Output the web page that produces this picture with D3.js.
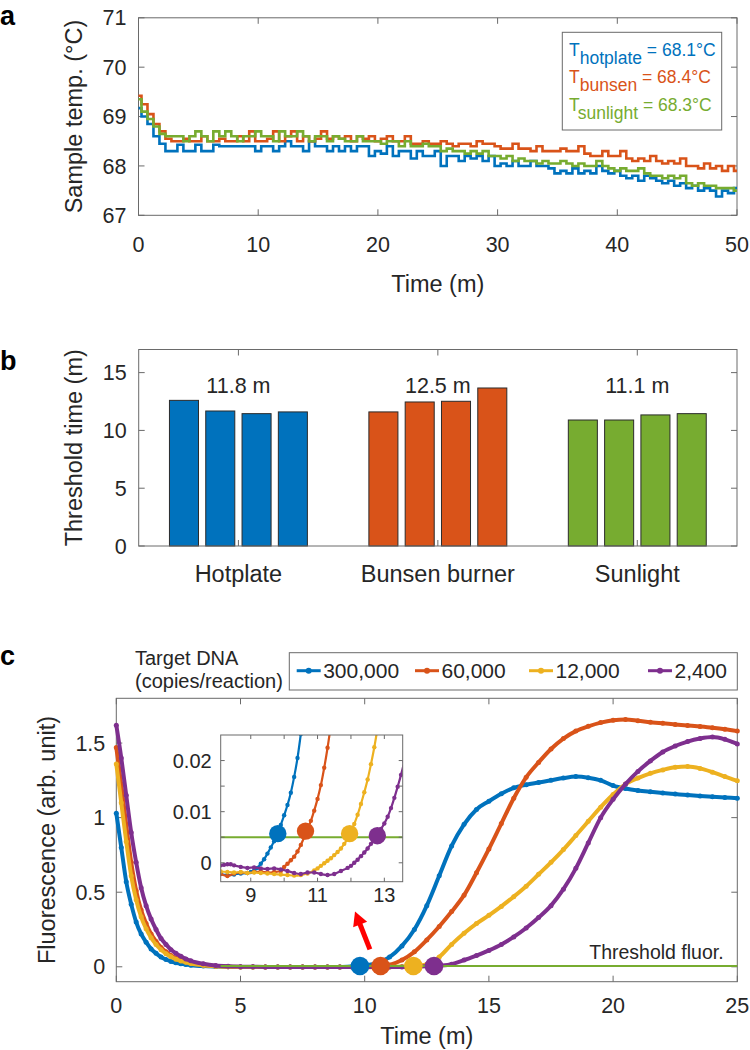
<!DOCTYPE html>
<html><head><meta charset="utf-8">
<script src="https://cdn.jsdelivr.net/npm/d3@7"></script>
<style>
html,body{margin:0;padding:0;background:#fff;}
svg{display:block;}
text{font-family:"Liberation Sans",Arial,Helvetica,sans-serif;fill:#262626;}
</style></head>
<body>
<svg id="chart" width="750" height="1050"></svg>
<script>
// ---------------- DATA ----------------
// Panel a: sample temperature (°C) vs time (min)
const tempTime = [0,0.5,1,1.5,2,2.5,3,3.5,4,4.5,5,5.5,6,6.5,7,7.5,8,8.5,9,9.5,10,10.5,11,11.5,12,12.5,13,13.5,14,14.5,15,15.5,16,16.5,17,17.5,18,18.5,19,19.5,20,20.5,21,21.5,22,22.5,23,23.5,24,24.5,25,25.5,26,26.5,27,27.5,28,28.5,29,29.5,30,30.5,31,31.5,32,32.5,33,33.5,34,34.5,35,35.5,36,36.5,37,37.5,38,38.5,39,39.5,40,40.5,41,41.5,42,42.5,43,43.5,44,44.5,45,45.5,46,46.5,47,47.5,48,48.5,49,49.5,50];
const tempHotplate = [69.17,69.0,68.85,68.6,68.45,68.3,68.3,68.43,68.3,68.3,
 68.43,68.3,68.3,68.43,68.4,68.4,68.4,68.4,68.4,68.4,
 68.3,68.4,68.4,68.3,68.4,68.5,68.4,68.4,68.3,68.5,
 68.4,68.4,68.3,68.4,68.3,68.4,68.3,68.4,68.4,68.2,
 68.3,68.25,68.4,68.2,68.3,68.3,68.15,68.3,68.2,68.2,
 68.3,68.0,68.2,68.2,68.1,68.2,68.15,68.2,68.1,68.2,
 68.0,68.05,68.0,68.1,68.0,68.0,68.1,68.0,68.0,67.95,
 67.85,67.9,67.85,67.95,67.85,67.9,67.85,68.0,67.9,67.85,
 67.9,67.8,67.75,67.8,67.7,67.8,67.75,67.7,67.65,67.7,
 67.6,67.65,67.55,67.6,67.5,67.55,67.5,67.38,67.5,67.45,
 67.55];
const tempBunsen = [69.42,69.25,69.05,68.85,68.7,68.55,68.5,68.5,68.55,68.5,
 68.5,68.6,68.5,68.5,68.55,68.5,68.5,68.6,68.5,68.7,
 68.5,68.5,68.55,68.7,68.5,68.6,68.7,68.5,68.6,68.5,
 68.55,68.7,68.55,68.6,68.55,68.6,68.5,68.6,68.55,68.6,
 68.5,68.55,68.6,68.5,68.5,68.6,68.45,68.45,68.5,68.45,
 68.45,68.5,68.45,68.4,68.45,68.45,68.4,68.5,68.45,68.45,
 68.4,68.35,68.35,68.45,68.35,68.35,68.3,68.4,68.3,68.3,
 68.3,68.35,68.3,68.3,68.4,68.25,68.2,68.2,68.3,68.2,
 68.2,68.3,68.15,68.1,68.15,68.1,68.2,68.1,68.05,68.1,
 68.05,68.15,68.0,68.0,67.95,68.05,67.95,68.0,67.9,68.0,
 67.9];
const tempSunlight = [69.35,69.1,68.95,68.8,68.65,68.6,68.6,68.6,68.5,68.6,
 68.7,68.6,68.5,68.7,68.6,68.7,68.6,68.5,68.6,68.6,
 68.7,68.6,68.6,68.5,68.7,68.6,68.6,68.7,68.6,68.5,
 68.6,68.6,68.5,68.6,68.55,68.5,68.5,68.6,68.5,68.5,
 68.5,68.45,68.5,68.5,68.4,68.5,68.4,68.4,68.45,68.4,
 68.4,68.3,68.35,68.3,68.3,68.25,68.3,68.25,68.3,68.2,
 68.2,68.15,68.2,68.1,68.15,68.1,68.1,68.05,68.1,68.05,
 68.05,68.1,68.05,68.0,68.05,68.0,68.0,68.1,68.0,67.95,
 67.9,67.95,67.9,67.9,67.95,67.85,67.8,67.8,67.75,67.8,
 67.75,67.8,67.65,67.6,67.65,67.6,67.6,67.55,67.55,67.55,
 67.5];
const legendANames = ["hotplate","bunsen","sunlight"];
const legendAMeans = ["68.1","68.4","68.3"];
const tempYTicks = [67,68,69,70,71];
const tempXTicks = [0,10,20,30,40,50];

// Panel b: threshold time (min) per run
const heatSources = ["Hotplate","Bunsen burner","Sunlight"];
const thrHotplate = [12.6,11.68,11.45,11.6];
const thrBunsen = [11.6,12.46,12.52,13.67];
const thrSunlight = [10.9,10.9,11.34,11.45];
const thrMeanLabels = ["11.8 m","12.5 m","11.1 m"];
const thrYTicks = [0,5,10,15];

// Panel c: fluorescence vs time (min)
const fluorTime = [0,0.2,0.4,0.6,0.8,1,1.2,1.4,1.6,1.8,2,2.2,2.4,2.6,2.8,3,3.5,4,4.5,5,5.5,6,6.5,7,7.5,8,8.5,9,9.5,10,10.5,11,11.5,12,12.5,13,13.5,14,14.5,15,15.5,16,16.5,17,17.5,18,18.5,19,19.5,20,20.5,21,21.5,22,22.5,23,23.5,24,24.5,25];
const fluor300000 = [1.03,0.80,0.57,0.42,0.30,0.22,0.165,0.12,0.09,0.066,0.049,0.036,0.027,0.02,0.015,0.011,
 0.005,0.002,0,-0.001,-0.002,-0.002,-0.002,-0.002,-0.002,-0.002,-0.002,-0.002,0.002,
 0.009,0.025,0.065,0.14,0.25,0.41,0.61,0.81,0.955,1.055,1.11,1.16,1.2,1.22,1.235,1.25,1.265,1.275,1.268,1.25,1.215,1.195,1.182,1.173,1.165,1.158,1.151,1.145,1.14,1.135,1.13];
const fluor60000 = [1.47,1.22,0.95,0.70,0.51,0.38,0.29,0.22,0.17,0.13,0.10,0.076,0.058,0.044,0.034,0.026,
 0.012,0.005,0.001,-0.001,-0.002,-0.002,-0.002,-0.002,-0.002,-0.002,-0.002,-0.002,-0.002,
 -0.001,0.0035,0.0125,0.045,0.1,0.18,0.27,0.37,0.48,0.63,0.79,0.96,1.13,1.27,1.37,1.46,1.53,1.58,1.612,1.637,1.653,1.658,1.65,1.64,1.632,1.625,1.618,1.611,1.603,1.593,1.58];
const fluor12000 = [1.36,1.10,0.84,0.61,0.45,0.335,0.255,0.195,0.15,0.115,0.088,0.067,0.051,0.039,0.03,0.022,
 0.01,0.004,0.001,-0.001,-0.002,-0.002,-0.002,-0.002,-0.002,-0.002,-0.002,-0.002,-0.002,
 -0.0024,-0.0024,-0.0011,0.0015,0.006,0.0163,0.065,0.15,0.225,0.29,0.345,0.405,0.47,0.54,0.62,0.70,0.786,0.88,0.975,1.07,1.155,1.225,1.265,1.297,1.32,1.337,1.342,1.33,1.305,1.275,1.247];
const fluor2400 = [1.62,1.40,1.15,0.90,0.70,0.53,0.41,0.32,0.25,0.19,0.15,0.115,0.09,0.07,0.053,0.04,
 0.02,0.008,0.003,0.001,0,-0.001,-0.001,-0.001,-0.001,-0.001,-0.001,-0.001,-0.001,
 -0.0016,-0.0022,-0.0019,-0.0022,-0.0006,0.0028,0.0077,0.0172,0.045,0.075,0.11,0.15,0.2,0.26,0.33,0.41,0.52,0.66,0.83,1.0,1.123,1.225,1.31,1.38,1.44,1.48,1.51,1.53,1.54,1.525,1.494];
const dnaLabels = ["300,000","60,000","12,000","2,400"];
const thresholdTimes = [9.81,10.64,11.96,12.79];
const thresholdFluor = 0.005;
const thresholdStart = 4.2;
const fluorXTicks = [0,5,10,15,20,25];
const fluorYTicks = [0,0.5,1,1.5];
// inset (zoom on threshold crossing): [time, fluorescence]
const inset300000 = [[8.1,-0.0022],[8.3,-0.0024],[8.5,-0.0023],[8.7,-0.0021],[8.9,-0.002],[9.0,-0.0018],[9.1,-0.0015],[9.2,-0.001],[9.3,-0.0002],[9.4,0.0007],[9.5,0.0018],[9.6,0.003],[9.7,0.0042],[9.8,0.0056],[9.9,0.0074],[10.0,0.0093],[10.1,0.0113],[10.2,0.0137],[10.3,0.0168],[10.4,0.0205],[10.5,0.0252],[10.6,0.03]];
const inset60000 = [[8.1,-0.0022],[8.3,-0.0026],[8.5,-0.0021],[8.7,-0.0019],[8.9,-0.002],[9.1,-0.0018],[9.3,-0.0017],[9.5,-0.0019],[9.7,-0.0018],[9.9,-0.0016],[10.0,-0.0008],[10.1,-0.0002],[10.2,0.0005],[10.3,0.0012],[10.4,0.0022],[10.5,0.0035],[10.6,0.005],[10.7,0.0066],[10.8,0.0082],[10.9,0.0102],[11.0,0.0125],[11.1,0.0152],[11.2,0.0186],[11.3,0.0225],[11.4,0.027]];
const inset12000 = [[8.1,-0.0017],[8.3,-0.0018],[8.5,-0.0019],[8.7,-0.0018],[8.9,-0.002],[9.1,-0.0019],[9.3,-0.002],[9.5,-0.0021],[9.7,-0.0022],[9.9,-0.0023],[10.1,-0.0024],[10.3,-0.0025],[10.5,-0.0024],[10.7,-0.0021],[10.9,-0.0015],[11.0,-0.0011],[11.1,-0.0006],[11.2,-0.0001],[11.3,0.0004],[11.4,0.0009],[11.5,0.0015],[11.6,0.0021],[11.7,0.0028],[11.8,0.0037],[11.9,0.0047],[12.0,0.006],[12.1,0.0076],[12.2,0.0094],[12.3,0.0115],[12.4,0.0138],[12.5,0.0163],[12.6,0.0193],[12.7,0.0226],[12.8,0.0265]];
const inset2400 = [[8.1,-0.0005],[8.2,-0.0004],[8.3,-0.0003],[8.4,-0.0003],[8.5,-0.0005],[8.7,-0.0008],[8.9,-0.001],[9.1,-0.0009],[9.3,-0.0011],[9.5,-0.0012],[9.7,-0.0011],[9.9,-0.0013],[10.1,-0.0016],[10.3,-0.002],[10.5,-0.0022],[10.7,-0.0019],[10.9,-0.0019],[11.1,-0.0022],[11.3,-0.0024],[11.5,-0.0022],[11.7,-0.0016],[11.9,-0.001],[12.0,-0.0006],[12.1,0],[12.2,0.0006],[12.3,0.0013],[12.4,0.002],[12.5,0.0028],[12.6,0.0037],[12.7,0.0046],[12.8,0.0056],[12.9,0.0066],[13.0,0.0077],[13.1,0.009],[13.2,0.0107],[13.3,0.0127],[13.4,0.0149],[13.5,0.0172],[13.6,0.0198]];
const insetMarkerFluor = [0.0057,0.0062,0.0057,0.0053];
const insetXTicks = [9,10,11,12,13];
const insetXLabels = [9,11,13];
const insetYTicks = [0,0.005,0.01,0.015,0.02];
const insetYLabels = [0,0.01,0.02];
const arrowTail = [10.21,0.117];
const arrowTip = [9.61,0.37];

// ---------------- STYLE ----------------
const C_BLUE="#0072BD", C_ORANGE="#D95319", C_YELLOW="#EDB120", C_PURPLE="#7E2F8E", C_GREEN="#77AC30";
const AX="#6a6a6a";
const svg = d3.select("#chart");
svg.append("rect").attr("width",750).attr("height",1050).attr("fill","#fff");

function frame(g, x, y, o){
  const [x0,x1]=x.range(), [yb,yt]=y.range();
  const L=o.tickLen||6;
  const fs=o.fontSize||21;
  (o.xTicks||[]).forEach(v=>{
    g.append("line").attr("x1",x(v)).attr("x2",x(v)).attr("y1",yb).attr("y2",yb-L).attr("stroke",AX);
    g.append("line").attr("x1",x(v)).attr("x2",x(v)).attr("y1",yt).attr("y2",yt+L).attr("stroke",AX);
  });
  (o.yTicks||[]).forEach(v=>{
    g.append("line").attr("y1",y(v)).attr("y2",y(v)).attr("x1",x0).attr("x2",x0+L).attr("stroke",AX);
    g.append("line").attr("y1",y(v)).attr("y2",y(v)).attr("x1",x1).attr("x2",x1-L).attr("stroke",AX);
  });
  g.append("rect").attr("x",x0).attr("y",yt).attr("width",x1-x0).attr("height",yb-yt)
   .attr("fill","none").attr("stroke",AX).attr("stroke-width",1);
  (o.xLabels||[]).forEach((v,i)=>{
    g.append("text").attr("x",x(v)).attr("y",yb+o.xLabelDy).attr("text-anchor","middle")
     .attr("font-size",o.xFontSize||fs).text(o.xFormat?o.xFormat(v,i):v);
  });
  (o.yLabels||[]).forEach(v=>{
    g.append("text").attr("x",x0-o.yLabelPad).attr("y",y(v)+fs*0.355).attr("text-anchor","end")
     .attr("font-size",fs).text(v);
  });
}
function vLabel(x,y,txt,fs){
  svg.append("text").attr("transform",`translate(${x},${y}) rotate(-90)`).attr("text-anchor","middle")
   .attr("font-size",fs).text(txt);
}
function panelLetter(x,y,t){
  svg.append("text").attr("x",x).attr("y",y).attr("font-size",27).attr("font-weight","bold").style("fill","#000").text(t);
}

// ---------------- PANEL A ----------------
const xA = d3.scaleLinear([0,50],[138.5,737]);
const yA = d3.scaleLinear([67,71],[215.3,17.8]);
const gA = svg.append("g");
frame(gA,xA,yA,{xTicks:tempXTicks,yTicks:tempYTicks,xLabels:tempXTicks,yLabels:tempYTicks,xLabelDy:36.2,yLabelPad:12,fontSize:21.5});
const lineA = d3.line().x((d,i)=>xA(tempTime[i])).y(d=>yA(d)).curve(d3.curveStep);
[[tempHotplate,C_BLUE],[tempBunsen,C_ORANGE],[tempSunlight,C_GREEN]].forEach(([s,c])=>{
  gA.append("path").attr("d",lineA(s)).attr("fill","none").attr("stroke",c).attr("stroke-width",2.6).attr("stroke-linejoin","miter");
});
gA.append("text").attr("x",(xA.range()[0]+xA.range()[1])/2).attr("y",291.5).attr("text-anchor","middle").attr("font-size",23.5).text("Time (m)");
vLabel(81.5,(yA.range()[0]+yA.range()[1])/2,"Sample temp. (°C)",23.5);
panelLetter(0,25,"a");
// legend a
gA.append("rect").attr("x",562.3).attr("y",32.3).attr("width",159.4).attr("height",97.7).attr("fill","#fff").attr("stroke",AX);
[C_BLUE,C_ORANGE,C_GREEN].forEach((c,i)=>{
  const t=gA.append("text").attr("x",569).attr("y",55.5+i*27.8).attr("font-size",17.5).style("fill",c);
  t.append("tspan").text("T");
  t.append("tspan").attr("dy",8).text(legendANames[i]);
  t.append("tspan").attr("dy",-8).text(" = "+legendAMeans[i]+"°C");
});

// ---------------- PANEL B ----------------
const xB = d3.scaleLinear([0.5,3.5],[138.7,737]);
const yB = d3.scaleLinear([0,17],[546,349.5]);
const gB = svg.append("g");
const unitB = xB(2)-xB(1);
const sub = d3.scaleBand().domain([0,1,2,3]).range([-0.364*unitB,0.364*unitB]).paddingInner(0.2).paddingOuter(0.1);
const barSets=[[thrHotplate,C_BLUE],[thrBunsen,C_ORANGE],[thrSunlight,C_GREEN]];
barSets.forEach(([vals,c],ci)=>{
  gB.selectAll(null).data(vals).enter().append("rect")
   .attr("x",(d,j)=>xB(ci+1)+sub(j)).attr("width",sub.bandwidth())
   .attr("y",d=>yB(d)).attr("height",d=>yB(0)-yB(d))
   .attr("fill",c).attr("stroke","#2b2b2b").attr("stroke-width",1);
});
frame(gB,xB,yB,{xTicks:[1,2,3],yTicks:thrYTicks,xLabels:[1,2,3],xFormat:(v,i)=>heatSources[i],xFontSize:23.5,xLabelDy:36.3,yLabels:thrYTicks,yLabelPad:12,fontSize:21.5});
thrMeanLabels.forEach((t,i)=>{
  gB.append("text").attr("x",xB(i+1)).attr("y",yB(13.26)).attr("text-anchor","middle").attr("font-size",21.5).text(t);
});
vLabel(81.5,(yB.range()[0]+yB.range()[1])/2,"Threshold time (m)",23.5);
panelLetter(0,370,"b");

// ---------------- PANEL C ----------------
const xC = d3.scaleLinear([0,25],[116.3,737.3]);
const yC = d3.scaleLinear([-0.1,1.8],[981.7,698.3]);
const gC = svg.append("g");
frame(gC,xC,yC,{xTicks:fluorXTicks,yTicks:fluorYTicks,xLabels:fluorXTicks,yLabels:fluorYTicks,xLabelDy:31.6,yLabelPad:11,fontSize:21.5});
const colorsC=[C_BLUE,C_ORANGE,C_YELLOW,C_PURPLE];
const seriesC=[fluor300000,fluor60000,fluor12000,fluor2400];
const lineC = d3.line().x((d,i)=>xC(fluorTime[i])).y(d=>yC(d)).curve(d3.curveMonotoneX);
seriesC.forEach((s,k)=>{
  gC.append("path").attr("d",lineC(s)).attr("fill","none").attr("stroke",colorsC[k]).attr("stroke-width",4);
  gC.selectAll(null).data(s).enter().append("circle")
   .attr("cx",(d,i)=>xC(fluorTime[i])).attr("cy",d=>yC(d)).attr("r",2.5).attr("fill",colorsC[k]);
});
gC.append("line").attr("x1",xC(thresholdStart)).attr("x2",xC(25)).attr("y1",yC(thresholdFluor)).attr("y2",yC(thresholdFluor))
  .attr("stroke",C_GREEN).attr("stroke-width",2);
thresholdTimes.forEach((t,k)=>{
  gC.append("circle").attr("cx",xC(t)).attr("cy",yC(thresholdFluor)).attr("r",9.3).attr("fill",colorsC[k]);
});
gC.append("text").attr("x",xC(24.45)).attr("y",959).attr("text-anchor","end").attr("font-size",19.5).text("Threshold fluor.");
// arrow
{
  const tx=xC(arrowTail[0]), ty=yC(arrowTail[1]), hx=xC(arrowTip[0]), hy=yC(arrowTip[1]);
  const dx=hx-tx, dy=hy-ty, len=Math.hypot(dx,dy), ux=dx/len, uy=dy/len, px=-uy, py=ux;
  const hl=14, hw=7.5;
  const bx=hx-ux*hl, by=hy-uy*hl;
  gC.append("line").attr("x1",tx).attr("y1",ty).attr("x2",bx+ux*2).attr("y2",by+uy*2).attr("stroke","#ff0000").attr("stroke-width",5);
  gC.append("path").attr("d",`M${hx},${hy}L${bx+px*hw},${by+py*hw}L${bx-px*hw},${by-py*hw}Z`).attr("fill","#ff0000");
}
gC.append("text").attr("x",(xC.range()[0]+xC.range()[1])/2).attr("y",1044).attr("text-anchor","middle").attr("font-size",23.5).text("Time (m)");
vLabel(54.5,(yC.range()[0]+yC.range()[1])/2,"Fluorescence (arb. unit)",23.5);
panelLetter(0,665,"c");
// legend c
svg.append("text").attr("x",135).attr("y",665).attr("font-size",20).text("Target DNA");
svg.append("text").attr("x",135).attr("y",688).attr("font-size",20).text("(copies/reaction)");
svg.append("rect").attr("x",289.3).attr("y",652.7).attr("width",448).attr("height",37.3).attr("fill","#fff").attr("stroke",AX);
const legXs=[296.7,415,529,648];
dnaLabels.forEach((lab,k)=>{
  const x=legXs[k], y=670.7;
  svg.append("line").attr("x1",x).attr("x2",x+24).attr("y1",y).attr("y2",y).attr("stroke",colorsC[k]).attr("stroke-width",3);
  svg.append("circle").attr("cx",x+12).attr("cy",y).attr("r",3).attr("fill",colorsC[k]);
  svg.append("text").attr("x",x+26.5).attr("y",677.7).attr("font-size",21).text(lab);
});

// ---------------- INSET ----------------
const xI = d3.scaleLinear([8.1,13.55],[220.7,402.7]);
const yI = d3.scaleLinear([-0.0037,0.025],[881.7,735]);
const gI = svg.append("g");
gI.append("rect").attr("x",220.7).attr("y",735).attr("width",182).attr("height",146.7).attr("fill","#fff");
svg.append("clipPath").attr("id","insetClip").append("rect").attr("x",220.7).attr("y",735).attr("width",182).attr("height",146.7);
const gIc = gI.append("g").attr("clip-path","url(#insetClip)");
gIc.append("line").attr("x1",xI.range()[0]).attr("x2",xI.range()[1]).attr("y1",yI(thresholdFluor)).attr("y2",yI(thresholdFluor)).attr("stroke",C_GREEN).attr("stroke-width",2);
const lineI = d3.line().x(d=>xI(d[0])).y(d=>yI(d[1])).curve(d3.curveMonotoneX);
[inset300000,inset60000,inset12000,inset2400].forEach((s,k)=>{
  gIc.append("path").attr("d",lineI(s)).attr("fill","none").attr("stroke",colorsC[k]).attr("stroke-width",2.2);
  gIc.selectAll(null).data(s).enter().append("circle").attr("cx",d=>xI(d[0])).attr("cy",d=>yI(d[1])).attr("r",2.2).attr("fill",colorsC[k]);
});
thresholdTimes.forEach((t,k)=>{
  gIc.append("circle").attr("cx",xI(t)).attr("cy",yI(insetMarkerFluor[k])).attr("r",8.7).attr("fill",colorsC[k]);
});
frame(gI,xI,yI,{xTicks:insetXTicks,yTicks:insetYTicks,xLabels:insetXLabels,xLabelDy:20,yLabels:insetYLabels,yLabelPad:9,fontSize:20,tickLen:4});
</script>
</body></html>
